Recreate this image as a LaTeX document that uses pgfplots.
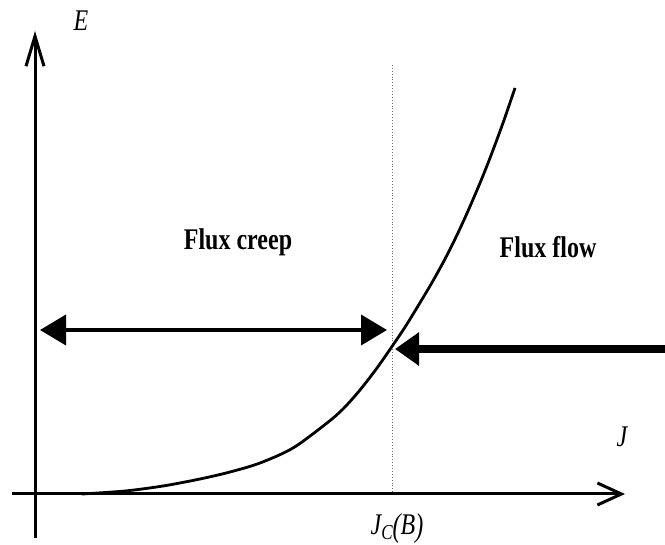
\documentclass[border=0pt]{standalone}
\usepackage{fontspec}
\setmainfont{Liberation Serif}
\usepackage{pgfplots}
\pgfplotsset{compat=1.18}
\usetikzlibrary{arrows.meta}

\newcommand{\lbl}[1]{\scalebox{1}[1.25]{#1}}

\begin{document}
\begin{tikzpicture}
\useasboundingbox (0,0) rectangle (665pt,545pt);
\begin{axis}[
  at={(0,0)}, anchor=south west,
  scale only axis, width=665pt, height=545pt,
  xmin=0, xmax=665, ymin=0, ymax=545,
  y dir=reverse,
  hide axis, clip=false,
]
% E axis (vertical) and J axis (horizontal)
\addplot[black, line width=3pt, -{Straight Barb[length=30pt,width=18pt,line width=3pt]}]
  coordinates {(35,538) (35,31)};
\addplot[black, line width=3pt, -{Straight Barb[length=24pt,width=22pt,line width=3pt]}]
  coordinates {(12,494) (625,494)};

% critical current density marker
\addplot[gray!80!black, line width=0.9pt, dotted]
  coordinates {(392,65) (392,494)};

% E-J characteristic
\addplot[black, line width=2.8pt, smooth]
  coordinates {(82,494) (125,491) (163,486) (200,479) (230,472) (260,463)
               (293,448) (327,423) (343,409) (360,390) (377,368)
               (393,345) (407,324) (430,286) (445,259)
               (457,235) (468,211) (480,183) (490,158) (503,123) (515,88)};

% flux creep range
\addplot[black, line width=4pt,
  {Triangle[length=26pt,width=30pt]}-{Triangle[length=26pt,width=30pt]}]
  coordinates {(40,330) (387,330)};

% pointer to the transition
\addplot[black, line width=8pt, -{Triangle[length=24pt,width=32pt]}]
  coordinates {(665,349) (395,349)};

% labels
\node[anchor=base, font=\fontsize{24}{26}\selectfont\bfseries]
  at (axis cs:238,250) {\lbl{Flux creep}};
\node[anchor=base, font=\fontsize{24}{26}\selectfont\bfseries]
  at (axis cs:548,258) {\lbl{Flux flow}};
\node[anchor=base, font=\fontsize{24}{26}\selectfont\itshape]
  at (axis cs:81,31) {\lbl{E}};
\node[anchor=base, font=\fontsize{24}{26}\selectfont\itshape]
  at (axis cs:622,447) {\lbl{J}};
\node[anchor=base, font=\fontsize{24}{26}\selectfont\itshape]
  at (axis cs:397,535) {\lbl{J\raisebox{-0.3ex}{\fontsize{17}{18}\selectfont C}\raisebox{-0.1ex}{\scalebox{1}[1.1]{(}}B\raisebox{-0.1ex}{\scalebox{1}[1.1]{)}}}};
\end{axis}
\end{tikzpicture}
\end{document}
